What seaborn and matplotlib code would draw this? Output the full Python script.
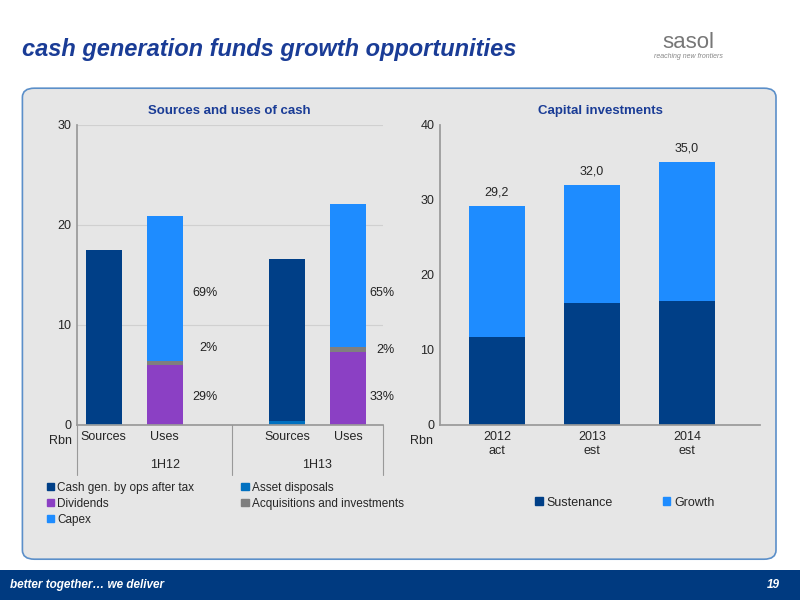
import numpy as np
import pandas as pd
import matplotlib
matplotlib.use('Agg')
import matplotlib.pyplot as plt
import seaborn as sns
from matplotlib.patches import FancyBboxPatch, Rectangle, Patch

# left chart data
src_groups = ['1H12', '1H13']
bar_labels = ['Sources', 'Uses', 'Sources', 'Uses']
cash_ops = [17.4, 0, 16.2, 0]
asset_disp = [0.1, 0, 0.4, 0]
dividends = [0, 6.0, 0, 7.3]
acquisitions = [0, 0.4, 0, 0.5]
capex = [0, 14.5, 0, 14.3]
pct_labels = [('69%', 13.2), ('2%', 7.7), ('29%', 2.8), ('65%', 13.2), ('2%', 7.5), ('33%', 2.8)]

# right chart data
years = ['2012\nact', '2013\nest', '2014\nest']
sustenance = [11.7, 16.3, 16.5]
growth = [17.5, 15.7, 18.5]
totals = ['29,2', '32,0', '35,0']

DARK = '#003F87'
ASSET = '#0070C0'
PURPLE = '#8B40C4'
GREY = '#7F7F7F'
LIGHT = '#1E8CFF'
TITLE = '#1A3C96'

sns.set_theme(style='white')
plt.rcParams['font.family'] = ['Liberation Sans', 'DejaVu Sans']

fig = plt.figure(figsize=(8, 6), dpi=100)
fig.patch.set_facecolor('white')

# panel and footer
panel = FancyBboxPatch((0.028, 0.068), 0.942, 0.785, boxstyle='round,pad=0,rounding_size=0.015',
                       transform=fig.transFigure, facecolor='#E6E6E6', edgecolor='#5B8FC9', lw=1.2, zorder=-5)
fig.patches.append(panel)
fig.patches.append(Rectangle((0, 0), 1, 0.05, transform=fig.transFigure, facecolor='#003A80',
                             edgecolor='none', zorder=-5))
fig.text(0.012, 0.025, 'better together\u2026 we deliver', color='white', fontsize=8.5, fontweight='bold',
         style='italic', va='center')
fig.text(0.975, 0.025, '19', color='white', fontsize=8.5, fontweight='bold', style='italic', va='center', ha='right')
fig.text(0.027, 0.918, 'cash generation funds growth opportunities', color=TITLE, fontsize=17,
         fontweight='bold', style='italic', va='center')
fig.text(0.86, 0.93, 'sasol', color='#777777', fontsize=16, ha='center', va='center')
fig.text(0.86, 0.905, 'reaching new frontiers', color='#888888', fontsize=5, style='italic', ha='center', va='center')

# left chart
ax = fig.add_axes([0.096, 0.2917, 0.3825, 0.5])
ax.set_zorder(2)
ax.set_facecolor('#E6E6E6')
x = np.array([0, 1, 3, 4])
w = 0.59
bottom = np.zeros(4)
for vals, col in [(asset_disp, ASSET), (cash_ops, DARK), (dividends, PURPLE), (acquisitions, GREY), (capex, LIGHT)]:
    ax.bar(x, vals, w, bottom=bottom, color=col, linewidth=0)
    bottom += np.array(vals)
for i, (t, y) in enumerate(pct_labels):
    xi = 1.66 if i < 3 else 4.56
    if t == '2%':
        xi += 0.05
    ax.text(xi, y, t, fontsize=9, ha='center', va='center', color='#222222')
ax.set_xlim(-0.44, 4.57)
ax.set_ylim(0, 30)
ax.set_yticks([0, 10, 20, 30])
ax.yaxis.grid(True, color='#D0D0D0', lw=0.8)
ax.set_axisbelow(True)
ax.set_xticks(x)
ax.set_xticklabels(bar_labels, fontsize=9)
ax.tick_params(axis='both', labelsize=9, length=0, pad=4)
for s in ['top', 'right']:
    ax.spines[s].set_visible(False)
ax.spines['left'].set_color('#999999')
ax.spines['bottom'].set_color('#999999')
ax.set_title('Sources and uses of cash', fontsize=9.5, fontweight='bold', color=TITLE, pad=8)
ax.text(-0.52, -1.6, 'Rbn', fontsize=9, ha='right', va='center')
for gx, g in zip([1.0, 3.5], src_groups):
    ax.text(gx, -4.0, g, fontsize=9, ha='center', va='center')
for lx in [-0.44, 2.1, 4.57]:
    ax.plot([lx, lx], [0, -5.0], color='#999999', lw=0.8, clip_on=False)

handles = [Patch(color=DARK, label='Cash gen. by ops after tax'), Patch(color=ASSET, label='Asset disposals'),
           Patch(color=PURPLE, label='Dividends'), Patch(color=GREY, label='Acquisitions and investments'),
           Patch(color=LIGHT, label='Capex')]
order = [0, 2, 4, 1, 3]
fig.legend([handles[i] for i in order], [handles[i].get_label() for i in order], ncol=2,
           loc='upper left', bbox_to_anchor=(0.045, 0.215), frameon=False, fontsize=8.5,
           handlelength=0.6, handleheight=0.6, handletextpad=0.3, columnspacing=4.0, labelspacing=0.35)

# right chart
ax2 = fig.add_axes([0.55, 0.2917, 0.4, 0.5])
ax2.set_zorder(2)
ax2.set_facecolor('#E6E6E6')
df = pd.DataFrame({'year': years, 'sustenance': sustenance, 'growth': growth})
df['total'] = df['sustenance'] + df['growth']
sns.barplot(data=df, x='year', y='total', color=LIGHT, width=0.59, saturation=1, linewidth=0, ax=ax2)
sns.barplot(data=df, x='year', y='sustenance', color=DARK, width=0.59, saturation=1, linewidth=0, ax=ax2)
for i, (t, v) in enumerate(zip(totals, df['total'])):
    ax2.text(i, v + 1.0, t, fontsize=9, ha='center', va='bottom')
ax2.set_xlim(-0.6, 2.77)
ax2.set_ylim(0, 40)
ax2.set_yticks([0, 10, 20, 30, 40])
ax2.set_xlabel('')
ax2.set_ylabel('')
ax2.tick_params(axis='both', labelsize=9, length=0, pad=4)
for lbl in ax2.get_xticklabels():
    lbl.set_linespacing(1.25)
for s in ['top', 'right']:
    ax2.spines[s].set_visible(False)
ax2.spines['left'].set_color('#999999')
ax2.spines['bottom'].set_color('#999999')
ax2.set_title('Capital investments', fontsize=9.5, fontweight='bold', color=TITLE, pad=8)
ax2.text(-0.67, -2.1, 'Rbn', fontsize=9, ha='right', va='center')
fig.legend([Patch(color=DARK), Patch(color=LIGHT)], ['Sustenance', 'Growth'], ncol=2,
           loc='center left', bbox_to_anchor=(0.655, 0.162), frameon=False, fontsize=9,
           handlelength=0.6, handleheight=0.6, handletextpad=0.3, columnspacing=4)

fig.savefig('out.png', dpi=100, facecolor='white')
